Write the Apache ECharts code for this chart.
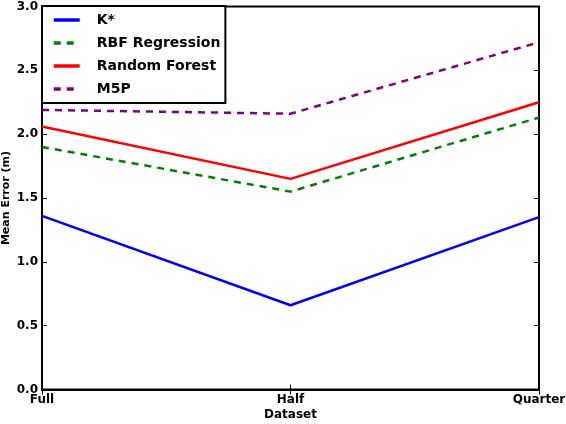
<!DOCTYPE html>
<html>
<head>
<meta charset="utf-8">
<script src="https://cdn.jsdelivr.net/npm/echarts@6/dist/echarts.min.js"></script>
<style>
  html, body { margin: 0; padding: 0; background: #fff; }
  #main { width: 566px; height: 424px; }
</style>
</head>
<body>
<div id="main"></div>
<script>
// data
var categories = ['Full', 'Half', 'Quarter'];
var kStar = [1.36, 0.66, 1.35];
var rbf = [1.90, 1.55, 2.13];
var randomForest = [2.06, 1.65, 2.25];
var m5p = [2.19, 2.16, 2.72];

var font = 'DejaVu Sans';

var chart = echarts.init(document.getElementById('main'), null, { renderer: 'canvas' });

function lineSeries(name, data, color, dashed) {
  return {
    name: name,
    type: 'line',
    data: data,
    symbol: 'none',
    animation: false,
    lineStyle: { color: color, width: 2.5, type: dashed ? [7, 6] : 'solid' },
    itemStyle: { color: color }
  };
}

var option = {
  backgroundColor: '#fff',
  animation: false,
  grid: {
    left: 42, right: 27, top: 6.5, bottom: 34.5,
    outerBoundsMode: 'none',
    containLabel: false,
    show: true, borderColor: '#000', borderWidth: 2, backgroundColor: 'transparent'
  },
  legend: {
    orient: 'vertical',
    left: 42, top: 6,
    padding: [7, 5, 7, 10],
    itemGap: 9,
    itemWidth: 26,
    itemHeight: 14,
    backgroundColor: '#fff',
    borderColor: '#000',
    borderWidth: 2,
    borderRadius: 0,
    itemStyle: { opacity: 0 },
    lineStyle: { width: 3.5 },
    textStyle: { fontFamily: font, fontSize: 14, fontWeight: 'bold', color: '#000', padding: [0, 0, 0, 12] },
    data: ['K*', 'RBF Regression', 'Random Forest', 'M5P']
  },
  xAxis: [{
    type: 'category',
    data: categories,
    boundaryGap: false,
    name: 'Dataset',
    nameLocation: 'middle',
    nameGap: 19,
    nameMoveOverlap: false,
    nameTextStyle: { fontFamily: font, fontSize: 12, fontWeight: 'bold', color: '#000' },
    axisLine: { show: true, lineStyle: { color: '#000', width: 2 } },
    axisTick: { show: true, inside: true, length: 5, lineStyle: { color: '#000' } },
    axisLabel: { fontFamily: font, fontSize: 12, fontWeight: 'bold', color: '#000', margin: 4 },
    splitLine: { show: false }
  }, {
    type: 'category',
    data: categories,
    boundaryGap: false,
    position: 'top',
    axisLine: { show: false },
    axisTick: { show: true, inside: true, length: 5, lineStyle: { color: '#000' } },
    axisLabel: { show: false },
    splitLine: { show: false }
  }],
  yAxis: [{
    type: 'value',
    min: 0, max: 3, interval: 0.5,
    name: 'Mean Error (m)',
    nameLocation: 'middle',
    nameGap: 30,
    nameMoveOverlap: false,
    nameTextStyle: { fontFamily: font, fontSize: 11, fontWeight: 'bold', color: '#000' },
    axisLine: { show: true, lineStyle: { color: '#000', width: 2 } },
    axisTick: { show: true, inside: true, length: 5, lineStyle: { color: '#000' } },
    axisLabel: {
      fontFamily: font, fontSize: 12, fontWeight: 'bold', color: '#000', margin: 4,
      formatter: function (v) { return v.toFixed(1); }
    },
    splitLine: { show: false }
  }, {
    type: 'value',
    min: 0, max: 3, interval: 0.5,
    position: 'right',
    axisLine: { show: false },
    axisTick: { show: true, inside: true, length: 5, lineStyle: { color: '#000' } },
    axisLabel: { show: false },
    splitLine: { show: false }
  }],
  series: [
    lineSeries('K*', kStar, '#0000ff', false),
    lineSeries('RBF Regression', rbf, '#008000', true),
    lineSeries('Random Forest', randomForest, '#ff0000', false),
    lineSeries('M5P', m5p, '#800080', true)
  ]
};

chart.setOption(option);
</script>
</body>
</html>
